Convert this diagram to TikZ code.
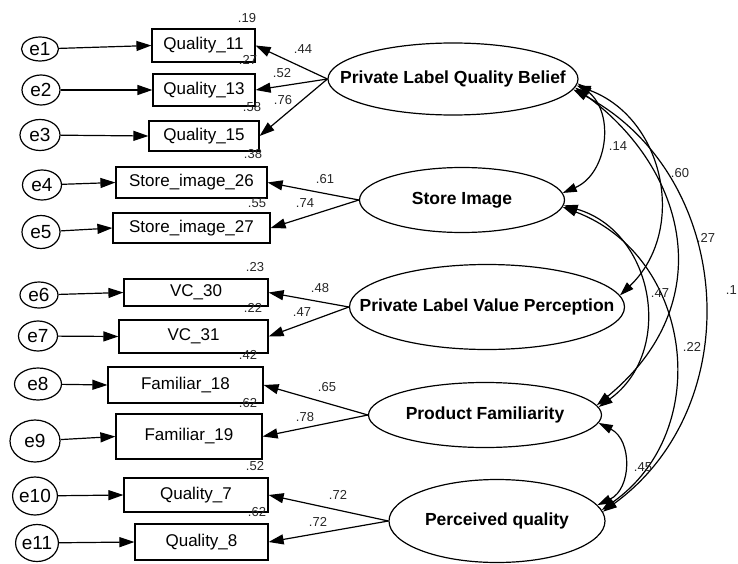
\documentclass[tikz,border=0pt]{standalone}
\usepackage{fontspec}
\setmainfont{Liberation Sans}
\usetikzlibrary{arrows.meta,shapes.geometric}
\begin{document}
\begin{tikzpicture}[x=1pt,y=-1pt,
  lw/.style={line width=1.2pt},
  obs/.style={draw,lw,rectangle,inner sep=0pt,font=\fontsize{17}{19}\selectfont},
  err/.style={draw,lw,ellipse,inner sep=0pt,font=\fontsize{19}{21}\selectfont},
  lat/.style={draw,lw,ellipse,inner sep=0pt},
  lattxt/.style={font=\bfseries\fontsize{17.5}{20}\selectfont,inner sep=0pt},
  num/.style={font=\fontsize{13}{15}\selectfont,inner sep=0pt,text=black!85},
  arr/.style={lw,-{Triangle[length=15pt,width=10pt]}},
  cov/.style={lw,{Triangle[length=14pt,width=9pt]}-{Triangle[length=14pt,width=9pt]},bend left=60,looseness=1.15},
  covc/.style={lw,{Triangle[length=14pt,width=9pt]}-{Triangle[length=14pt,width=9pt]}},
]
\useasboundingbox (0,0) rectangle (738,564);

% latent variables
\node[lat,minimum width=250pt,minimum height=72pt] (plqb) at (453,79) {};
\node[lattxt] (plqbt) at (plqb) {Private Label Quality Belief};
\node[lat,minimum width=205pt,minimum height=65pt] (si) at (462,200) {};
\node[lattxt] (sit) at (si) {Store Image};
\node[lat,minimum width=275pt,minimum height=85pt] (plvp) at (487,307) {};
\node[lattxt] (plvpt) at (plvp) {Private Label Value Perception};
\node[lat,minimum width=233pt,minimum height=65pt] (pf) at (485,415) {};
\node[lattxt] (pft) at (pf) {Product Familiarity};
\node[lat,minimum width=216pt,minimum height=83pt] (pq) at (497,521) {};
\node[lattxt] (pqt) at (pq) {Perceived quality};

% observed variables
\node[obs,minimum width=103pt,minimum height=33pt] (q11) at (203.5,45.5) {Quality\_11};
\node[obs,minimum width=102pt,minimum height=32pt] (q13) at (204,90) {Quality\_13};
\node[obs,minimum width=110pt,minimum height=30pt] (q15) at (204,136) {Quality\_15};
\node[obs,minimum width=151pt,minimum height=31pt] (s26) at (191.5,182.5) {Store\_image\_26};
\node[obs,minimum width=157pt,minimum height=30pt] (s27) at (191.5,228) {Store\_image\_27};
\node[obs,minimum width=144pt,minimum height=27pt] (vc30) at (196,292.5) {VC\_30};
\node[obs,minimum width=149pt,minimum height=33pt] (vc31) at (193.5,336.5) {VC\_31};
\node[obs,minimum width=155pt,minimum height=36pt] (f18) at (185.5,385) {Familiar\_18};
\node[obs,minimum width=146pt,minimum height=45pt] (f19) at (189,436.5) {Familiar\_19};
\node[obs,minimum width=144pt,minimum height=34pt] (q7) at (196,495) {Quality\_7};
\node[obs,minimum width=133pt,minimum height=36pt] (q8) at (201.5,542) {Quality\_8};

% error terms
\node[err,minimum width=37pt,minimum height=24pt] (e1) at (40,49) {e1};
\node[err,minimum width=38pt,minimum height=30pt] (e2) at (41,90) {e2};
\node[err,minimum width=40pt,minimum height=31pt] (e3) at (40,135) {e3};
\node[err,minimum width=39pt,minimum height=30pt] (e4) at (42,185) {e4};
\node[err,minimum width=38pt,minimum height=33pt] (e5) at (41,232) {e5};
\node[err,minimum width=38pt,minimum height=26pt] (e6) at (39,295) {e6};
\node[err,minimum width=39pt,minimum height=30pt] (e7) at (38,336) {e7};
\node[err,minimum width=47pt,minimum height=32pt] (e8) at (38,384) {e8};
\node[err,minimum width=50pt,minimum height=42pt] (e9) at (35,441) {e9};
\node[err,minimum width=44pt,minimum height=38pt] (e10) at (35,496) {e10};
\node[err,minimum width=40pt,minimum height=37pt] (e11) at (37,543) {e11};

% error arrows
\draw[arr] (e1) -- (q11.west);
\draw[arr] (e2) -- (q13.west);
\draw[arr] (e3) -- (q15.west);
\draw[arr] (e4) -- (s26.west);
\draw[arr] (e5) -- (s27.west);
\draw[arr] (e6) -- (vc30.west);
\draw[arr] (e7) -- (vc31.west);
\draw[arr] (e8) -- (f18.west);
\draw[arr] (e9) -- (f19.west);
\draw[arr] (e10) -- (q7.west);
\draw[arr] (e11) -- (q8.west);

% loadings
\draw[arr] (plqb.west) -- (q11.east);
\draw[arr] (plqb.west) -- (q13.east);
\draw[arr] (plqb.west) -- (q15.east);
\draw[arr] (si.west) -- (s26.east);
\draw[arr] (si.west) -- (s27.east);
\draw[arr] (plvp.west) -- (vc30.east);
\draw[arr] (plvp.west) -- (vc31.east);
\draw[arr] (pf.west) -- (f18.east);
\draw[arr] (pf.west) -- (f19.east);
\draw[arr] (pq.west) -- (q7.east);
\draw[arr] (pq.west) -- (q8.east);

% covariances
\draw[cov,bend left=59,looseness=1.12] (plqb.-2) to (si.4);
\draw[cov,bend left=58,looseness=1.12] (plqb.-3) to (plvp.5);
\draw[covc] (plqb.-4) .. controls +(112,82) and +(124,-102) .. (pf.5);
\draw[cov,bend left=58,looseness=1.10] (plqb.-5) to (pq.5);
\draw[cov,bend left=64,looseness=1.18] (si.-3) to (pf.4);
\draw[cov,bend left=62,looseness=1.16] (si.-4) to (pq.6);
\draw[cov,bend left=64,looseness=1.18] (pf.-4) to (pq.9);

% numbers
\node[num] (n1) at (247,18) {.19};
\node[num] (n2) at (303,49) {.44};
\node[num] (n3) at (248,60) {.27};
\node[num] (n4) at (282,73) {.52};
\node[num] (n5) at (283,100) {.76};
\node[num] (n6) at (252,107) {.58};
\node[num] (n7) at (253,154) {.38};
\node[num] (n8) at (325,179) {.61};
\node[num] (n9) at (257,203) {.55};
\node[num] (n10) at (305,203) {.74};
\node[num] (n11) at (255,267) {.23};
\node[num] (n12) at (320,288) {.48};
\node[num] (n13) at (253,308) {.22};
\node[num] (n14) at (302,312) {.47};
\node[num] (n15) at (248,355) {.42};
\node[num] (n16) at (327,387) {.65};
\node[num] (n17) at (248,403) {.62};
\node[num] (n18) at (305,417) {.78};
\node[num] (n19) at (255,466) {.52};
\node[num] (n20) at (338,495) {.72};
\node[num] (n21) at (257,512) {.62};
\node[num] (n22) at (318,522) {.72};
\node[num] (c1) at (618,146) {.14};
\node[num] (c2) at (680,173) {.60};
\node[num] (c3) at (706,238) {.27};
\node[num,anchor=east] (c4) at (737,290) {.1};
\node[num] (c5) at (660,293) {.47};
\node[num] (c6) at (692,347) {.22};
\node[num] (c7) at (643,467) {.45};
\end{tikzpicture}
\end{document}
